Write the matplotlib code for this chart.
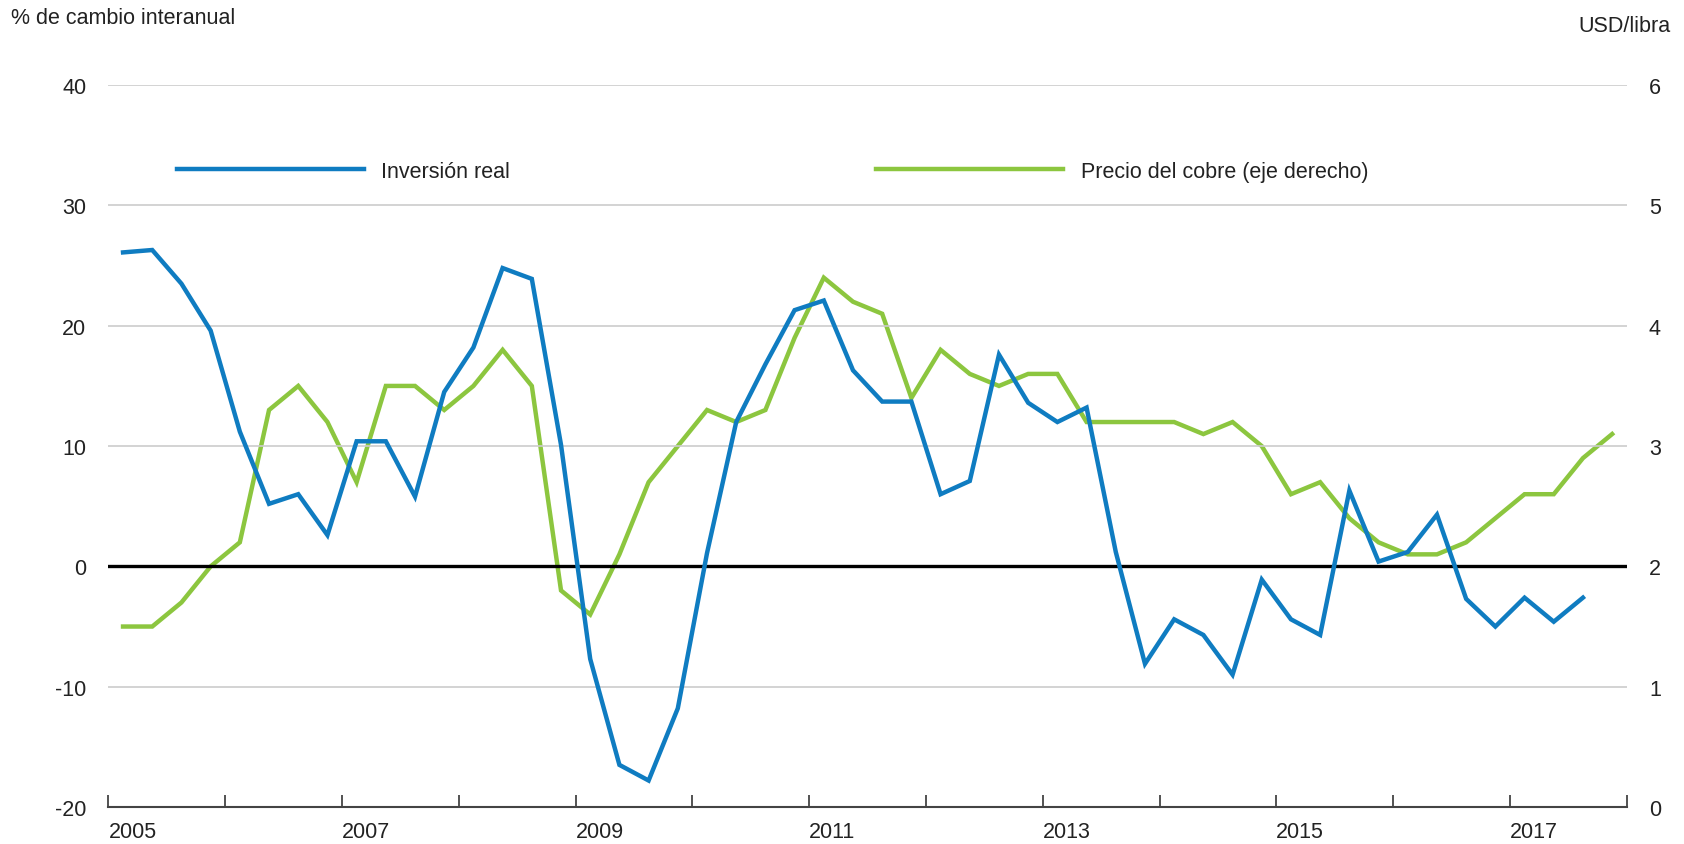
import numpy as np
import matplotlib
matplotlib.use("Agg")
import matplotlib.pyplot as plt
from matplotlib import font_manager

# ---------------- data ----------------
start_year = 2005
inversion_real = [26.1, 26.3, 23.5, 19.6, 11.2, 5.2, 6.0, 2.6,
                  10.4, 10.4, 5.8, 14.5, 18.2, 24.8, 23.9, 10.1,
                  -7.7, -16.5, -17.8, -11.8, 1.1, 12.0, 16.8, 21.3,
                  22.1, 16.3, 13.7, 13.7, 6.0, 7.1, 17.6, 13.6,
                  12.0, 13.2, 1.2, -8.1, -4.4, -5.7, -9.0, -1.1,
                  -4.4, -5.7, 6.3, 0.4, 1.2, 4.3, -2.7, -5.0,
                  -2.6, -4.6, -2.6]
precio_cobre = [1.5, 1.5, 1.7, 2.0, 2.2, 3.3, 3.5, 3.2,
                2.7, 3.5, 3.5, 3.3, 3.5, 3.8, 3.5, 1.8,
                1.6, 2.1, 2.7, 3.0, 3.3, 3.2, 3.3, 3.9,
                4.4, 4.2, 4.1, 3.4, 3.8, 3.6, 3.5, 3.6,
                3.6, 3.2, 3.2, 3.2, 3.2, 3.1, 3.2, 3.0,
                2.6, 2.7, 2.4, 2.2, 2.1, 2.1, 2.2, 2.4,
                2.6, 2.6, 2.9, 3.1]
label_inv = "Inversión real"
label_cobre = "Precio del cobre (eje derecho)"
left_title = "% de cambio interanual"
right_title = "USD/libra"
left_ticks = [-20, -10, 0, 10, 20, 30, 40]
right_ticks = [0, 1, 2, 3, 4, 5, 6]
year_ticks = list(range(2005, 2019))
year_labels = [str(y) if (y - 2005) % 2 == 0 and y < 2018 else "" for y in year_ticks]

# quarterly positions (mid-quarter)
x_inv = start_year + np.arange(len(inversion_real)) / 4 + 0.125
x_cob = start_year + np.arange(len(precio_cobre)) / 4 + 0.125

# ---------------- style ----------------
avail = {f.name for f in font_manager.fontManager.ttflist}
fam = "Liberation Sans Narrow" if "Liberation Sans Narrow" in avail else "Liberation Sans"
plt.rcParams["font.family"] = [fam, "DejaVu Sans"]
FS = 15.5 if fam == "Liberation Sans" else 18
TXT = "#222222"
BLUE = "#0F7CC1"
GREEN = "#8CC63F"

fig = plt.figure(figsize=(16.84, 8.45), dpi=100)
ax = fig.add_axes([0.0644, 0.0438, 0.9016, 0.8542])
ax2 = ax.twinx()

ax.set_xlim(2005, 2018)
ax.set_ylim(-20, 40)
ax2.set_ylim(0, 6)

for v in left_ticks[1:]:
    if v != 0:
        ax.axhline(v, color="#CCCCCC", lw=1.2, zorder=0)
ax.axhline(0, color="black", lw=2.4, zorder=1)

ln1, = ax.plot(x_inv, inversion_real, color=BLUE, lw=3.2, zorder=3,
               solid_joinstyle="miter", label=label_inv)
ln2, = ax2.plot(x_cob, precio_cobre, color=GREEN, lw=3.2, zorder=3,
                solid_joinstyle="miter", label=label_cobre)

for a in (ax, ax2):
    for s in ("top", "left", "right"):
        a.spines[s].set_visible(False)
ax2.spines["bottom"].set_visible(False)
ax.spines["bottom"].set_color("#444444")
ax.spines["bottom"].set_linewidth(1.5)

ax.set_yticks(left_ticks)
ax.set_yticklabels([str(v) for v in left_ticks])
ax2.set_yticks(right_ticks)
ax2.set_yticklabels([str(v) for v in right_ticks])
ax.tick_params(axis="y", length=0, pad=16, labelsize=FS, labelcolor=TXT)
ax2.tick_params(axis="y", length=0, pad=16, labelsize=FS, labelcolor=TXT)

ax.set_xticks(year_ticks)
ax.set_xticklabels(year_labels)
ax.tick_params(axis="x", direction="in", length=9, width=1.3, color="#444444",
               labelsize=FS, labelcolor=TXT, pad=10)
for lab in ax.get_xticklabels():
    lab.set_horizontalalignment("left")

ax.set_zorder(ax2.get_zorder() + 1)
ax.patch.set_visible(False)

leg = ax.legend([ln1, ln2], [label_inv, label_cobre], ncol=2, frameon=False,
                loc="center left", bbox_to_anchor=(0.045, 0.881),
                handlelength=8.7, handletextpad=0.8, columnspacing=17.0,
                borderpad=0, borderaxespad=0, fontsize=FS)
for t in leg.get_texts():
    t.set_color(TXT)

fig.text(11 / 1684, 1 - 19 / 845, left_title, ha="left", va="center",
         fontsize=FS, color=TXT)
fig.text(1670 / 1684, 1 - 27 / 845, right_title, ha="right", va="center",
         fontsize=FS, color=TXT)

fig.savefig("out.png", dpi=100)
